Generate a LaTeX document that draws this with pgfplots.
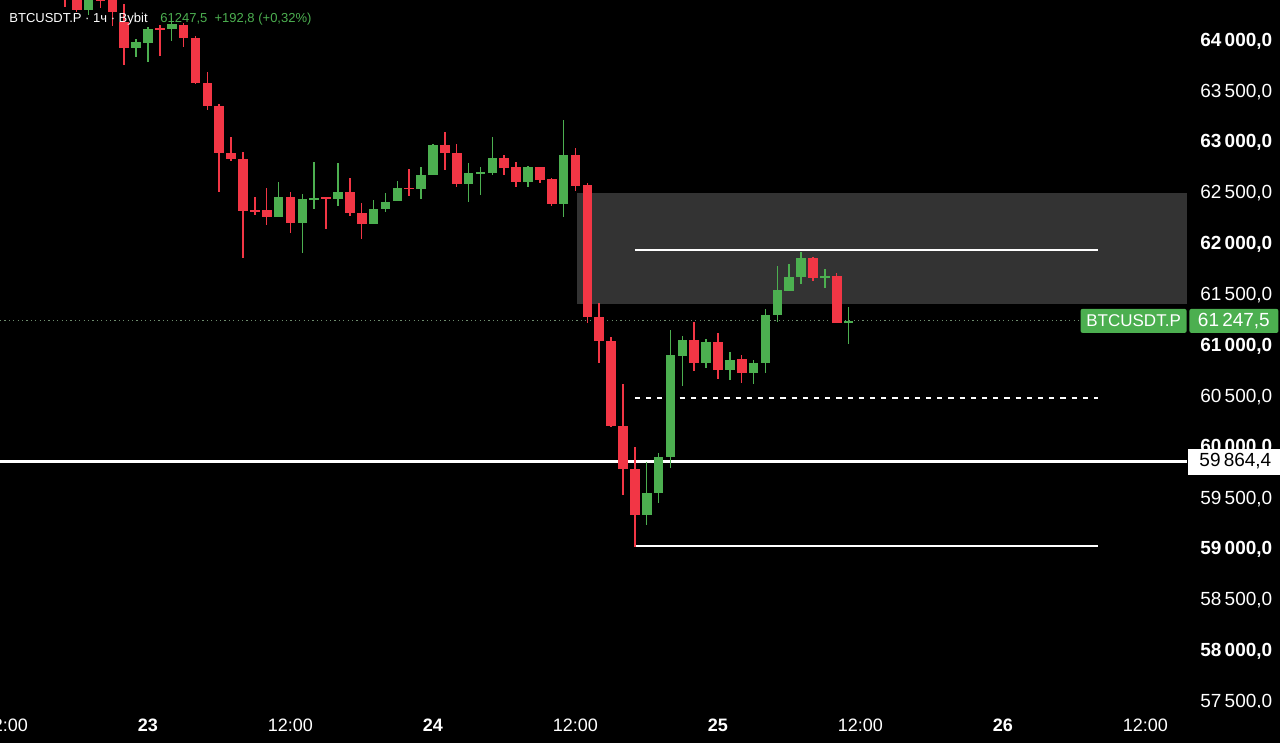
\documentclass[border=0pt]{standalone}
\usepackage{fontspec}
\setmainfont{Liberation Sans}
\usepackage{pgfplots}
\usepackage{pgfplotstable}
\pgfplotsset{compat=1.18}

\definecolor{tvred}{HTML}{F23645}
\definecolor{tvgreen}{HTML}{4CAF50}
\definecolor{zone}{HTML}{333333}
\definecolor{dotline}{RGB}{110,140,110}

% hourly candles, h = hours from 23rd 00:00
\pgfplotstableread{
h o hi lo c
-7 64700 64800 64334 64500
-6 64450 64500 64285 64305
-4 64410 64450 64324 64395
-3 64400 64430 64147 64285
-2 64187 64364 63764 63931
1 64125 64157 63852 64110
3 64157 64177 63941 64029
4 64029 64049 63577 63587
5 63587 63695 63321 63361
6 63361 63380 62515 62899
7 62899 63056 62820 62840
8 62840 62908 61866 62328
9 62340 62466 62289 62326
10 62338 62554 62191 62269
12 62466 62515 62112 62210
15 62463 62466 62151 62449
17 62515 62653 62279 62309
18 62309 62407 62053 62200
22 62560 62741 62476 62546
25 62977 63105 62731 62899
26 62899 62987 62564 62594
30 62849 62879 62682 62751
31 62761 62810 62564 62613
33 62761 62761 62603 62633
34 62643 62653 62377 62397
36 62879 62948 62525 62574
37 62584 62603 61227 61286
38 61286 61424 60834 61050
39 61050 61089 60204 60214
40 60214 60627 59536 59791
41 59791 60008 59024 59339
46 61060 61237 60755 60834
48 61040 61129 60676 60765
50 60873 60912 60637 60735
56 61866 61876 61640 61669
58 61689 61719 61227 61227
}\redc

\pgfplotstableread{
h o hi lo c
-5 64305 64480 64256 64420
-1 63931 64019 63842 63990
0 63980 64137 63793 64118
2 64118 64226 64000 64167
11 62269 62613 62269 62466
13 62210 62495 61915 62446
14 62440 62810 62348 62455
16 62446 62800 62377 62515
19 62200 62436 62200 62348
20 62348 62505 62318 62417
21 62427 62623 62427 62554
23 62545 62761 62446 62682
24 62682 62987 62682 62977
27 62594 62800 62417 62702
28 62696 62761 62486 62710
29 62702 63056 62682 62849
32 62613 62771 62564 62761
35 62397 63223 62269 62879
42 59339 59860 59241 59555
43 59555 59949 59457 59909
44 59909 61158 59801 60912
45 60903 61099 60608 61060
47 60834 61070 60785 61040
49 60765 60942 60667 60863
51 60735 60863 60627 60834
52 60834 61365 60735 61306
53 61306 61787 61237 61551
54 61542 61807 61542 61679
55 61679 61925 61610 61866
57 61672 61758 61571 61686
59 61232 61384 61020 61247.5
}\greenc

\pgfplotsset{
  wick/.style={draw=none, mark=none, forget plot,
    error bars/.cd, y dir=both, y explicit, error mark=none,
    error bar style={draw=#1, line width=0.75pt}},
  body/.style={draw=none, mark=none, forget plot,
    error bars/.cd, y dir=both, y explicit, error mark=none,
    error bar style={draw=#1, line width=4.8pt}},
}

\begin{document}
\begin{tikzpicture}[font=\fontsize{9.5}{10}\selectfont]
\useasboundingbox (0,0) rectangle (640pt,371.5pt);
\fill[black] (0,0) rectangle (640pt,371.5pt);
\begin{axis}[
  at={(0pt,17.5pt)}, anchor=south west,
  width=593.5pt, height=354pt, scale only axis,
  xmin=-12.46, xmax=87.5, ymin=57441, ymax=64403,
  axis line style={draw=none}, tick style={draw=none},
  ytick={57500,58000,...,64000},
  yticklabel pos=right,
  yticklabels={{\textrm{57\,500,0}},{\textbf{58\,000,0}},{\textrm{58\,500,0}},{\textbf{59\,000,0}},
    {\textrm{59\,500,0}},{\textbf{60\,000,0}},{\textrm{60\,500,0}},{\textbf{61\,000,0}},
    {\textrm{61\,500,0}},{\textbf{62\,000,0}},{\textrm{62\,500,0}},{\textbf{63\,000,0}},
    {\textrm{63\,500,0}},{\textbf{64\,000,0}}},
  yticklabel style={anchor=west, inner sep=0pt, xshift=6.5pt, text=white},
  xtick={-12,0,12,24,36,48,60,72,84},
  xticklabels={{\textrm{12:00}},{\textbf{23}},{\textrm{12:00}},{\textbf{24}},{\textrm{12:00}},
    {\textbf{25}},{\textrm{12:00}},{\textbf{26}},{\textrm{12:00}}},
  xticklabel style={anchor=center, inner sep=0pt, yshift=-8.5pt, text=white,
    font=\fontsize{9}{10}\selectfont},
]
% zone
\addplot[fill=zone, draw=none, forget plot] coordinates
  {(36.13,62505) (87.5,62505) (87.5,61414) (36.13,61414)} -- cycle;
% last price dotted
\addplot[dotline, line width=0.6pt, dash pattern=on 0.6pt off 1.6pt, forget plot]
  coordinates {(-12.46,61247.5) (87.5,61247.5)};
% levels
\addplot[white, line width=1.1pt, forget plot] coordinates {(-12.46,59864.4) (87.5,59864.4)};
\addplot[white, line width=1.1pt, forget plot] coordinates {(41,61945) (80,61945)};
\addplot[white, line width=1.1pt, forget plot] coordinates {(41,59034) (80,59034)};
\addplot[white, line width=0.75pt, dash pattern=on 2.6pt off 3pt, forget plot]
  coordinates {(41,60490) (80,60490)};
% candles
\addplot[wick=tvred] table[x=h, y expr={(\thisrow{hi}+\thisrow{lo})/2},
  y error expr={(\thisrow{hi}-\thisrow{lo})/2}] {\redc};
\addplot[body=tvred] table[x=h, y expr={(\thisrow{o}+\thisrow{c})/2},
  y error expr={abs(\thisrow{o}-\thisrow{c})/2}] {\redc};
\addplot[wick=tvgreen] table[x=h, y expr={(\thisrow{hi}+\thisrow{lo})/2},
  y error expr={(\thisrow{hi}-\thisrow{lo})/2}] {\greenc};
\addplot[body=tvgreen] table[x=h, y expr={(\thisrow{o}+\thisrow{c})/2},
  y error expr={abs(\thisrow{o}-\thisrow{c})/2}] {\greenc};
\coordinate (pl) at (axis cs:87.5,61247.5);
\coordinate (sl) at (axis cs:87.5,59864.4);
\end{axis}
% price scale labels
\node[fill=tvgreen, text=white, rounded corners=1pt, anchor=east, minimum width=53pt,
  minimum height=12pt, inner sep=0pt, font=\fontsize{8.5}{9}\selectfont] at (pl) {BTCUSDT.P};
\node[fill=tvgreen, text=white, rounded corners=1pt, anchor=west, minimum width=44.5pt,
  minimum height=12pt, inner sep=0pt] at ([xshift=1pt]pl) {61\,247,5};
\node[fill=white, text=black, anchor=west, minimum width=47pt,
  minimum height=13pt, inner sep=0pt] at ([xshift=0.5pt]sl) {59\,864,4};
\fill[black] (593.5pt,0) rectangle (640pt,17.5pt);
% header
\node[anchor=base west, inner sep=0pt, text=white, font=\fontsize{6.5}{7}\selectfont]
  at (4.5pt,360pt) {BTCUSDT.P · 1ч · Bybit};
\node[anchor=base west, inner sep=0pt, text=tvgreen, font=\fontsize{6.5}{7}\selectfont]
  at (80pt,360pt) {61247,5\ \ +192,8 (+0,32\%)};
\end{tikzpicture}
\end{document}
